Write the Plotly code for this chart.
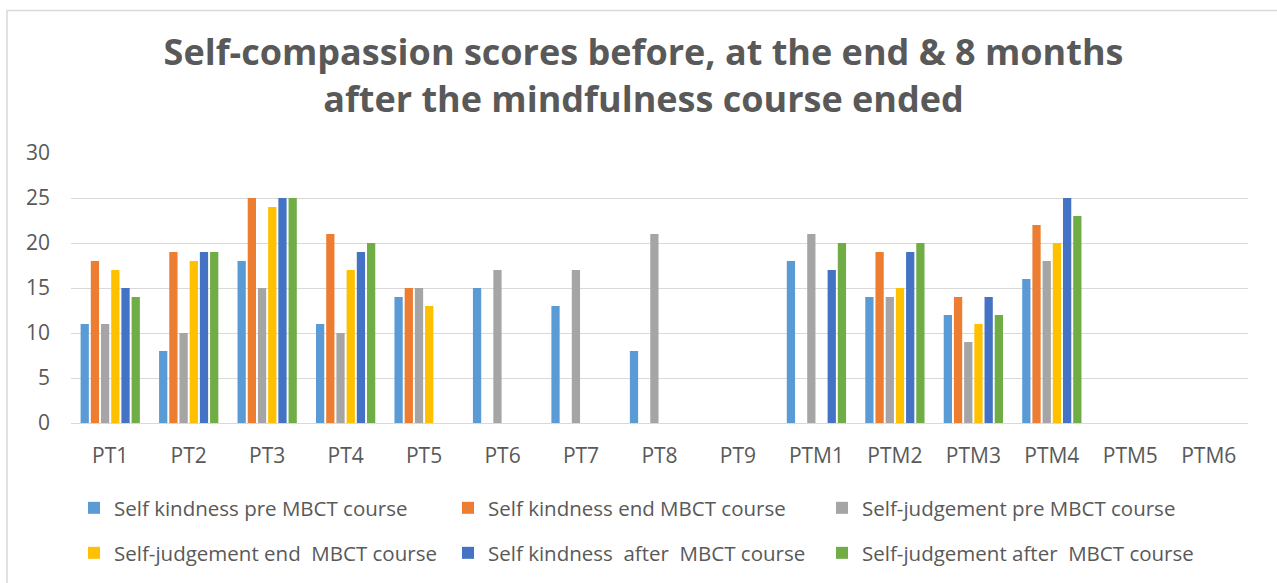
import plotly.graph_objects as go

categories = ["PT1", "PT2", "PT3", "PT4", "PT5", "PT6", "PT7", "PT8", "PT9",
              "PTM1", "PTM2", "PTM3", "PTM4", "PTM5", "PTM6"]

sk_pre = [11, 8, 18, 11, 14, 15, 13, 8, None, 18, 14, 12, 16, None, None]
sk_end = [18, 19, 25, 21, 15, None, None, None, None, None, 19, 14, 22, None, None]
sj_pre = [11, 10, 15, 10, 15, 17, 17, 21, None, 21, 14, 9, 18, None, None]
sj_end = [17, 18, 24, 17, 13, None, None, None, None, None, 15, 11, 20, None, None]
sk_after = [15, 19, 25, 19, None, None, None, None, None, 17, 19, 14, 25, None, None]
sj_after = [14, 19, 25, 20, None, None, None, None, None, 20, 20, 12, 23, None, None]

series_names = [
    "Self kindness pre MBCT course",
    "Self kindness end MBCT course",
    "Self-judgement pre MBCT course",
    "Self-judgement end  MBCT course",
    "Self kindness  after  MBCT course",
    "Self-judgement after  MBCT course",
]
series_values = [sk_pre, sk_end, sj_pre, sj_end, sk_after, sj_after]
colors = ["#5B9BD5", "#ED7D31", "#A5A5A5", "#FFC000", "#4472C4", "#70AD47"]

FONT = "Open Sans"
TXT = "#595959"

# plot-area pixel geometry
W, H = 1277, 583
L, R, T, B = 71, 29, 153, 159
pw, ph = W - L - R, H - T - B

def px_x(px):
    return (px - L) / pw

def px_y(py):
    return (H - B - py) / ph

fig = go.Figure()
for i, (name, vals, col) in enumerate(zip(series_names, series_values, colors)):
    fig.add_trace(go.Bar(
        x=categories, y=vals, name=name,
        marker=dict(color=col, line=dict(width=0)),
        legend="legend" if i < 3 else "legend2",
    ))

legend_common = dict(
    orientation="h", xanchor="left", yanchor="middle",
    font=dict(family=FONT, size=20.5, color=TXT),
    entrywidth=329, entrywidthmode="pixels",
    bgcolor="rgba(0,0,0,0)", itemclick=False,
)

fig.update_layout(
    width=W, height=H,
    margin=dict(l=L, r=R, t=T, b=B, pad=0),
    paper_bgcolor="white", plot_bgcolor="white",
    barmode="group", bargap=0.22, bargroupgap=0.19,
    title=dict(
        text="Self-compassion scores before, at the end & 8 months<br>after the mindfulness course ended",
        x=643.5 / W, xref="container", xanchor="center", y=(H - 65) / H, yref="container", yanchor="middle",
        font=dict(family=FONT, size=36, color=TXT, weight="bold"),
    ),
    xaxis=dict(
        type="category", showgrid=False, zeroline=False, showline=False,
        tickfont=dict(family=FONT, size=21, color=TXT), ticks="",
        ticklabelstandoff=18,
    ),
    yaxis=dict(
        range=[0, 30], tickvals=[0, 5, 10, 15, 20, 25, 30],
        showgrid=True, gridcolor="#D9D9D9", gridwidth=1.3,
        zeroline=True, zerolinecolor="#D9D9D9", zerolinewidth=1.3,
        showline=False, ticks="",
        tickfont=dict(family=FONT, size=21, color=TXT),
        ticklabelstandoff=20,
    ),
    legend=dict(x=px_x(74), y=px_y(508), **legend_common),
    legend2=dict(x=px_x(74), y=px_y(553), **legend_common),
    shapes=[dict(
        type="rect", xref="paper", yref="paper",
        x0=px_x(7), x1=px_x(1295), y0=px_y(610), y1=px_y(10),
        line=dict(color="#D9D9D9", width=1.5), fillcolor="rgba(0,0,0,0)", layer="below",
    )],
)

fig.write_html("out.html", config={"displayModeBar": False},
               post_script="document.body.style.margin='0';document.body.style.overflow='hidden';")
